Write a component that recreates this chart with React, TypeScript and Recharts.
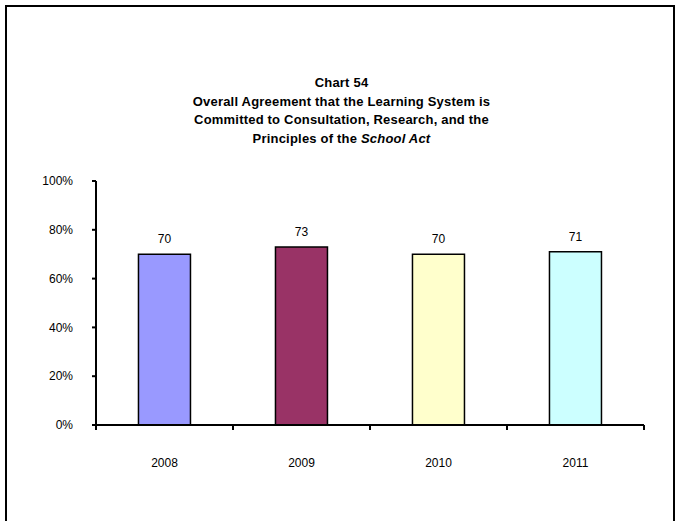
import { Bar, BarChart, Cell, LabelList, XAxis, YAxis } from 'recharts';

const years = ['2008', '2009', '2010', '2011'];
const agreement = [70, 73, 70, 71];
const barColors = ['#9999FF', '#993366', '#FFFFCC', '#CCFFFF'];
const yTicks = [0, 20, 40, 60, 80, 100];

const rows = years.map((year, i) => ({ year, value: agreement[i] }));

const W = 677;
const H = 521;
const PLOT_LEFT = 96;
const PLOT_RIGHT = 644;
const font = '"Liberation Sans", Arial, sans-serif';

// category ticks sit on band edges, labels at band centres
function YearTick(props: any) {
  const { x, y, payload, index } = props;
  const band = (PLOT_RIGHT - PLOT_LEFT) / years.length;
  const left = x - band / 2;
  return (
    <g>
      <line x1={left} y1={y} x2={left} y2={y + 5} stroke="#000" strokeWidth={2} />
      {index === years.length - 1 && (
        <line x1={left + band} y1={y} x2={left + band} y2={y + 5} stroke="#000" strokeWidth={2} />
      )}
      <text x={x} y={y + 42} textAnchor="middle" fontSize={12} fontFamily={font} fill="#000">
        {payload.value}
      </text>
    </g>
  );
}

export default function App() {
  return (
    <div style={{ position: 'fixed', left: 0, top: 0, width: W, height: H, background: '#fff' }}>
      <div
        style={{
          position: 'absolute',
          left: 5,
          top: 5,
          width: 670,
          height: 530,
          border: '2px solid #000',
          boxSizing: 'border-box',
        }}
      />
      <div
        style={{
          position: 'absolute',
          left: 0,
          width: W,
          top: 74,
          textAlign: 'center',
          fontFamily: font,
          fontWeight: 'bold',
          fontSize: 13,
          letterSpacing: 0.2,
          lineHeight: '18.7px',
          color: '#000',
          paddingLeft: 6,
          boxSizing: 'border-box',
        }}
      >
        <div>Chart 54</div>
        <div>Overall Agreement that the Learning System is</div>
        <div>Committed to Consultation, Research, and the</div>
        <div>
          Principles of the <i>School Act</i>
        </div>
      </div>
      <BarChart
        width={W}
        height={H}
        data={rows}
        margin={{ top: 181, right: W - PLOT_RIGHT, bottom: 66, left: 36 }}
        barCategoryGap="31%"
        style={{ position: 'absolute', left: 0, top: 0 }}
      >
        <XAxis
          dataKey="year"
          height={30}
          axisLine={{ stroke: '#000', strokeWidth: 2 }}
          tickLine={false}
          tickSize={0}
          tickMargin={0}
          tick={<YearTick />}
          interval={0}
        />
        <YAxis
          width={60}
          domain={[0, 100]}
          ticks={yTicks}
          tickFormatter={(v: number) => `${v}%`}
          axisLine={{ stroke: '#000', strokeWidth: 2 }}
          tickLine={{ stroke: '#000', strokeWidth: 2 }}
          tickSize={4}
          tickMargin={19}
          tick={{ fontSize: 12, fontFamily: font, fill: '#000' }}
        />
        <Bar dataKey="value" stroke="#000" strokeWidth={1.5} isAnimationActive={false}>
          {rows.map((r, i) => (
            <Cell key={r.year} fill={barColors[i]} />
          ))}
          <LabelList
            dataKey="value"
            position="top"
            offset={11}
            style={{ fontSize: 12, fontFamily: font, fill: '#000' }}
          />
        </Bar>
      </BarChart>
    </div>
  );
}
